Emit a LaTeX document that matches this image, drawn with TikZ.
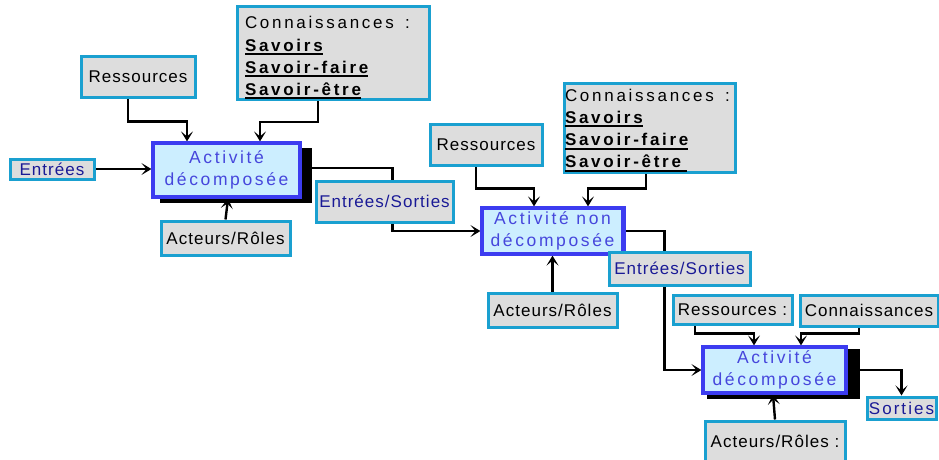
\documentclass[tikz,border=0pt]{standalone}
\usepackage{fontspec}
\setmainfont{Liberation Sans}
\newfontfamily\lsA[LetterSpace=6]{Liberation Sans}
\newfontfamily\lsS[LetterSpace=12]{Liberation Sans}
\newfontfamily\lsB[LetterSpace=15]{Liberation Sans}
\newfontfamily\lsC[LetterSpace=16]{Liberation Sans}
\usetikzlibrary{arrows.meta}
\pgfdeclarelayer{under}
\pgfsetlayers{under,main}
% thick underline used for the knowledge items
\newsavebox\ulinebox
\newcommand\ulthick[1]{\leavevmode\sbox\ulinebox{#1}\rlap{\rule[-3.8pt]{\wd\ulinebox}{2pt}}\usebox\ulinebox}
\definecolor{boxfill}{RGB}{221,221,221}
\definecolor{boxline}{RGB}{26,160,208}
\definecolor{actfill}{RGB}{204,238,255}
\definecolor{actline}{RGB}{60,60,240}
\definecolor{acttext}{RGB}{70,70,220}
\definecolor{flowtext}{RGB}{26,26,150}
\tikzset{
  greybox/.style={draw=boxline, fill=boxfill, line width=3pt, inner sep=0pt,
    font=\lsA\fontsize{17}{20}\selectfont, text=black},
  flowbox/.style={greybox, text=flowtext},
  knowbox/.style={draw=boxline, fill=boxfill, line width=3pt, inner sep=0pt,
    align=left, font=\lsC\fontsize{17}{22.2}\selectfont, text=black},
  actbox/.style={draw=actline, fill=actfill, line width=3.2pt, inner sep=0pt,
    align=center, font=\lsB\fontsize{17.5}{21.5}\selectfont, text=acttext},
  shadow/.style={fill=black},
  arr/.style={draw=black, line width=2.4pt, -{Stealth[length=10pt,width=12pt,inset=5pt]}}
}
\begin{document}
\begin{tikzpicture}[x=1pt,y=-1pt]
\useasboundingbox (0,0) rectangle (939,459);
\clip (0,0) rectangle (939,459);

% activity boxes
\node[actbox, minimum width=147, minimum height=54] (act1) at (226.5,170) {Activité\\décomposée};
\node[actbox, minimum width=141, minimum height=46] (act2) at (552.5,231) {Activité non\\décomposée};
\node[actbox, minimum width=143, minimum height=46] (act3) at (774.5,370) {Activité\\décomposée};
\draw[actline, line width=5pt] ([xshift=-1]act2.north east) -- ([xshift=-1]act2.south east);

% resources, knowledge, actors, flows
\node[greybox, minimum width=114, minimum height=41] (res1) at (138,76.5) {Ressources};
\node[knowbox, minimum width=192, minimum height=92, text width=176] (kno1) at (333,53)
  {\rule{0pt}{22pt}Connaissances~~:\\\ulthick{\bfseries Savoirs}\\\ulthick{\bfseries Savoir-faire}\\\ulthick{\bfseries Savoir-être}};
\node[flowbox, minimum width=84, minimum height=20] (ent) at (52,169) {Entrées};
\node[greybox, minimum width=129, minimum height=34] (rol1) at (225.5,238) {Acteurs/Rôles};
\node[flowbox, minimum width=137, minimum height=41] (io1) at (384.5,201.5) {Entrées/Sorties};

\node[greybox, minimum width=112, minimum height=41] (res2) at (486,144.5) {Ressources};
\node[knowbox, minimum width=171, minimum height=89, text width=169] (kno2) at (649.5,127.5)
  {\rule{0pt}{18pt}Connaissances~~:\\\ulthick{\bfseries Savoirs}\\\ulthick{\bfseries Savoir-faire}\\\ulthick{\bfseries Savoir-être }};
\node[greybox, minimum width=129, minimum height=34] (rol2) at (552.5,310) {Acteurs/Rôles};
\node[flowbox, minimum width=141, minimum height=33] (io2) at (679.5,268.5) {Entrées/Sorties};

\node[greybox, minimum width=119, minimum height=29] (res3) at (732.5,309.5) {Ressources~:};
\node[greybox, minimum width=138, minimum height=31] (kno3) at (869,310.5) {Connaissances};
\node[greybox, minimum width=140, minimum height=41, text depth=0pt] (rol3) at (775,441.5) {Acteurs/Rôles~:};
\node[flowbox, minimum width=69, minimum height=22, font=\lsS\fontsize{17}{20}\selectfont] (out) at (901.5,408) {Sorties};

\begin{pgfonlayer}{under}
  % drop shadows of the decomposed activities
  \fill[shadow] (160,148) rectangle (312,203);
  \fill[shadow] (707,349) rectangle (860,399);

  % first activity
  \draw[arr] ([xshift=-10]res1.south) -- ++(0,23) -| ([xshift=-39.5]act1.north);
  \draw[arr] ([xshift=-15]kno1.south) -- ++(0,21) -| ([xshift=33.5]act1.north);
  \draw[arr] (ent.east) -- (act1.west |- ent.east);
  \draw[arr] (rol1.north) -- ([xshift=1.5]act1.south);
  \draw[arr] ([yshift=2]act1.east) -- ++(91,0) |- (act2.west);

  % second activity
  \draw[arr] ([xshift=-10]res2.south) -- ++(0,22) -| ([xshift=-18.5]act2.north);
  \draw[arr] ([xshift=-3.5]kno2.south) -- ++(0,15) -| ([xshift=35.5]act2.north);
  \draw[arr] (rol2.north) -- (act2.south);
  \draw[arr] (act2.east) -- ++(40,0) |- (act3.west);

  % third activity
  \draw[arr] ([xshift=-37.5]res3.south) -- ++(0,8) -| ([xshift=-20.5]act3.north);
  \draw[arr] ([xshift=-10]kno3.south) -- ++(0,6) -| ([xshift=26.5]act3.north);
  \draw[arr] (rol3.north) -- ([xshift=-1.5]act3.south);
  \draw[arr] (act3.east) -| (out.north);
\end{pgfonlayer}
\end{tikzpicture}
\end{document}
